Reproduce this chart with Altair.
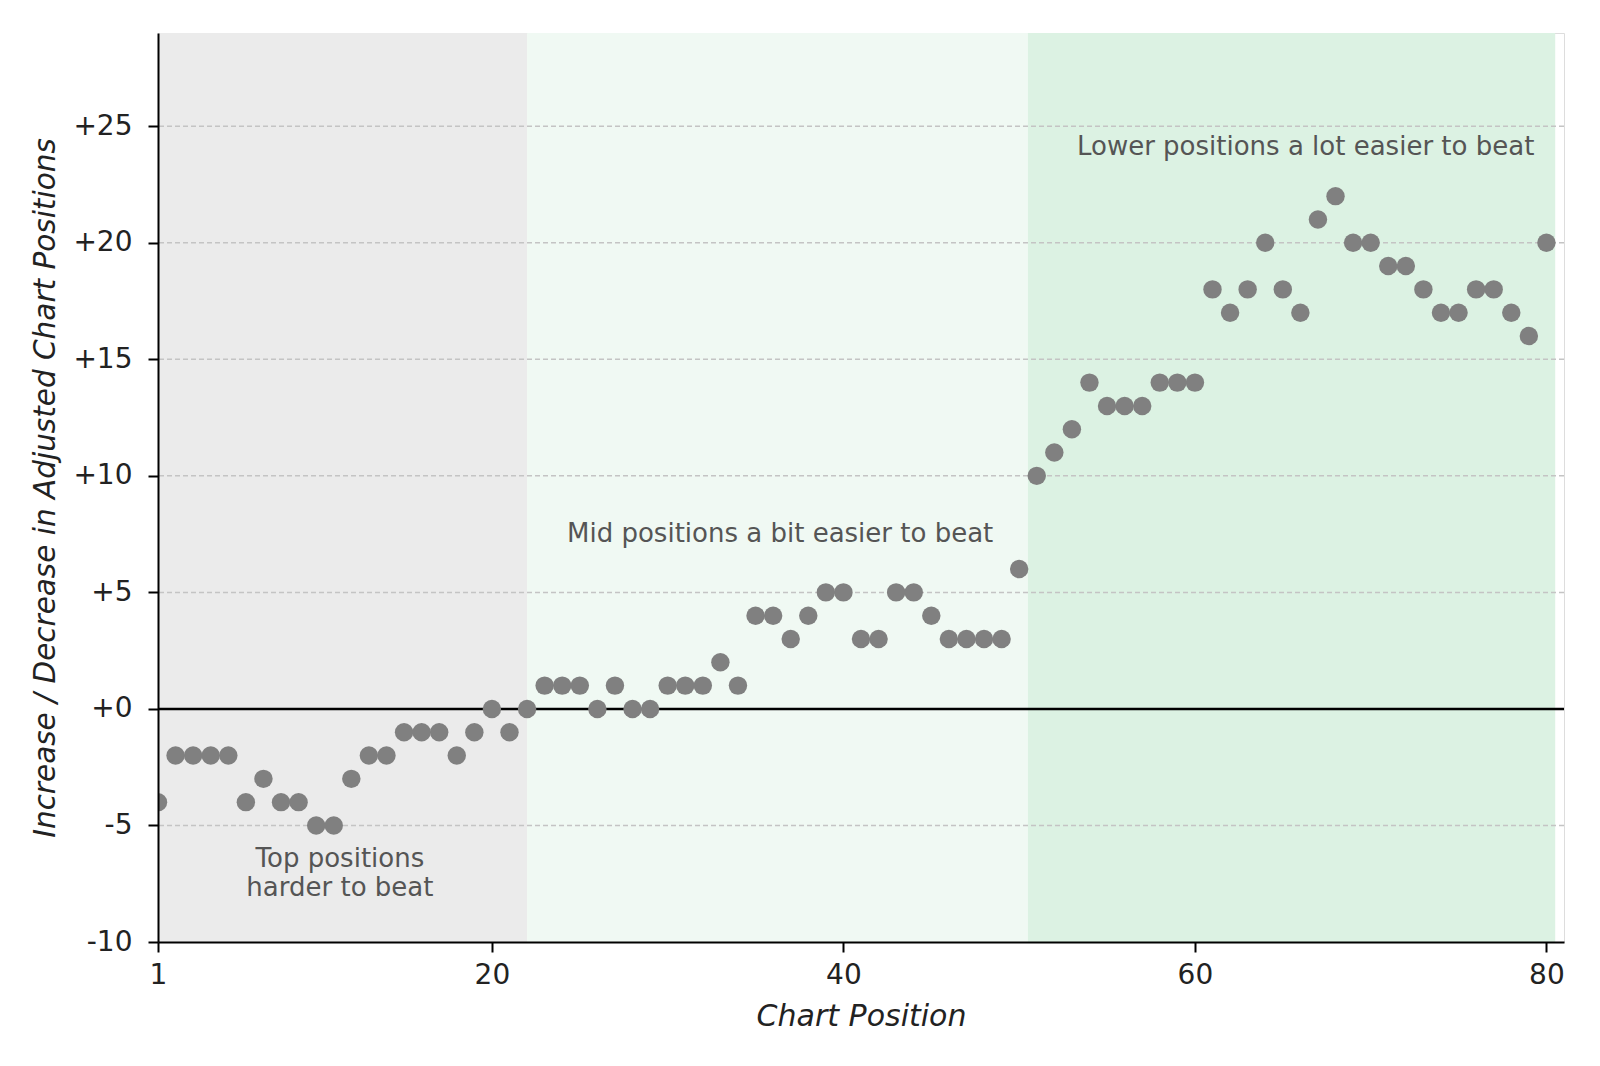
import altair as alt
import pandas as pd

positions = list(range(1, 81))
changes = [-4, -2, -2, -2, -2, -4, -3, -4, -4, -5,
           -5, -3, -2, -2, -1, -1, -1, -2, -1, 0,
           -1, 0, 1, 1, 1, 0, 1, 0, 0, 1,
           1, 1, 2, 1, 4, 4, 3, 4, 5, 5,
           3, 3, 5, 5, 4, 3, 3, 3, 3, 6,
           10, 11, 12, 14, 13, 13, 13, 14, 14, 14,
           18, 17, 18, 20, 18, 17, 21, 22, 20, 20,
           19, 19, 18, 17, 17, 18, 18, 17, 16, 20]

region_start = [1, 22, 50.5]
region_end = [22, 50.5, 80.5]
region_color = ["#ebebeb", "#f0f9f3", "#dcf2e3"]

grid_values = [-5, 5, 10, 15, 20, 25]
x_ticks = [1, 20, 40, 60, 80]
y_ticks = [-10, -5, 0, 5, 10, 15, 20, 25]

note_x = [11.35, 36.4, 66.3]
note_y = [-6.45, 7.5, 24.13]
note_text = [["Top positions", "harder to beat"],
             ["Mid positions a bit easier to beat"],
             ["Lower positions a lot easier to beat"]]

FONT = "DejaVu Sans"

pts = pd.DataFrame({"pos": positions, "chg": changes})
regions = pd.DataFrame({"s": region_start, "e": region_end, "c": region_color})
grid = pd.DataFrame({"g": grid_values})
notes = pd.DataFrame({"x": note_x, "y": note_y, "t": note_text})

xscale = alt.Scale(domain=[1, 81], nice=False, zero=False)
yscale = alt.Scale(domain=[-10, 29], nice=False, zero=False)

x_axis = alt.Axis(values=x_ticks, title="Chart Position", grid=False,
                  domainColor="black", domainWidth=2, tickColor="black",
                  tickWidth=2, tickSize=10, labelPadding=9, zindex=1,
                  labelFont=FONT, labelFontSize=28, labelColor="#222",
                  titleFont=FONT, titleFontSize=30, titleFontStyle="italic",
                  titleFontWeight="normal", titleColor="#222", titlePadding=12,
                  labelFlush=False)
y_axis = alt.Axis(values=y_ticks, title="Increase / Decrease in Adjusted Chart Positions",
                  grid=False, domainColor="black", domainWidth=2, zindex=1,
                  tickColor="black", tickWidth=2, tickSize=10, labelPadding=16,
                  labelExpr="datum.value >= 0 ? '+' + datum.value : '' + datum.value",
                  labelFont=FONT, labelFontSize=28, labelColor="#222",
                  titleFont=FONT, titleFontSize=29.5, titleFontStyle="italic",
                  titleFontWeight="normal", titleColor="#222", titlePadding=12,
                  labelFlush=False)

rects = alt.Chart(regions).mark_rect().encode(
    x=alt.X("s:Q", scale=xscale, axis=x_axis),
    x2="e:Q",
    y=alt.datum(29, scale=yscale, axis=y_axis),
    y2=alt.datum(-10),
    color=alt.Color("c:N", scale=None),
)

grid_rules = alt.Chart(grid).mark_rule(color="#c4c4c4", strokeWidth=1.5,
                                       strokeDash=[5, 3]).encode(
    y=alt.Y("g:Q", scale=yscale)
)

zero_rule = alt.Chart(pd.DataFrame({"z": [0]})).mark_rule(
    color="black", strokeWidth=2.5).encode(y=alt.Y("z:Q", scale=yscale))

points = alt.Chart(pts).mark_circle(size=340, opacity=1, color="#808080",
                                     clip=True).encode(
    x=alt.X("pos:Q", scale=xscale),
    y=alt.Y("chg:Q", scale=yscale),
)

labels = alt.Chart(notes).mark_text(font=FONT, fontSize=26, color="#555555",
                                    align="center", baseline="middle",
                                    lineHeight=29).encode(
    x=alt.X("x:Q", scale=xscale),
    y=alt.Y("y:Q", scale=yscale),
    text="t",
)

chart = alt.layer(rects, grid_rules, zero_rule, points, labels).properties(
    width=1406, height=909,
    autosize=alt.AutoSizeParams(type="none"),
    padding={"left": 150, "top": 25, "right": 20, "bottom": 100},
).configure_view(stroke=None).configure(background="white")

chart.save("out.html", embed_options={"renderer": "svg", "actions": False})
